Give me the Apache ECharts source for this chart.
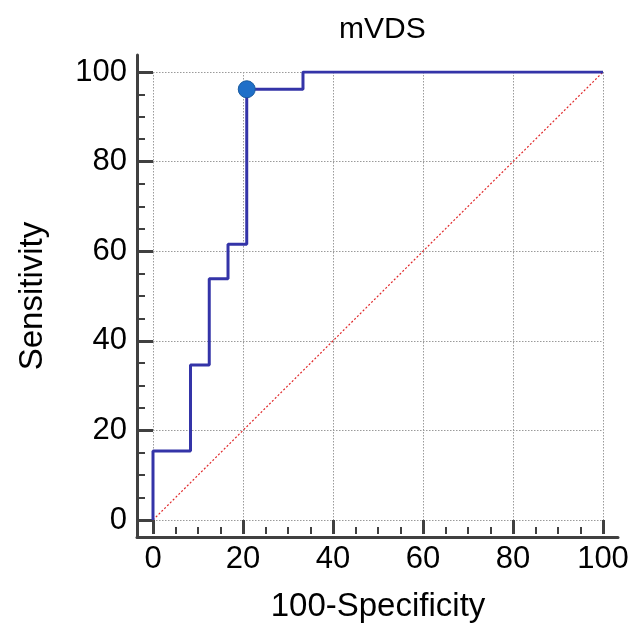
<!DOCTYPE html>
<html>
<head>
<meta charset="utf-8">
<script src="https://cdn.jsdelivr.net/npm/echarts@6/dist/echarts.min.js"></script>
<style>
  html, body { margin: 0; padding: 0; background: #fff; }
  #rocChart { width: 632px; height: 628px; }
</style>
</head>
<body>
<div id="rocChart"></div>
<script>
// ROC steps (100-Specificity, Sensitivity)
const rocX = [0, 0, 8.33, 8.33, 12.5, 12.5, 16.67, 16.67, 20.83, 20.83, 33.33, 33.33, 100];
const rocY = [0, 15.38, 15.38, 34.62, 34.62, 53.85, 53.85, 61.54, 61.54, 96.15, 96.15, 100, 100];
// optimal cut-off point
const cutX = [20.83];
const cutY = [96.15];
// chance line
const diagX = [0, 100];
const diagY = [0, 100];
// axis ticks
const axisTicks = [0, 20, 40, 60, 80, 100];

const font = "'Liberation Sans', Arial, sans-serif";
const axisColor = '#404040';

function pairs(xs, ys) {
    return xs.map((x, i) => [x, ys[i]]);
}

let myChart = echarts.init(document.getElementById('rocChart'));

const tickAxis = (isY) => ({
    type: 'value',
    gridIndex: 0,
    min: axisTicks[0],
    max: axisTicks[axisTicks.length - 1],
    interval: axisTicks[1] - axisTicks[0],
    offset: isY ? 16 : 14,
    axisLine: { show: false, onZero: false },
    axisTick: {
        show: true,
        inside: true,
        length: isY ? 16 : 14,
        lineStyle: { color: axisColor, width: 3 }
    },
    minorTick: {
        show: true,
        splitNumber: 4,
        length: isY ? 8 : 7,
        lineStyle: { color: axisColor, width: 2 }
    },
    splitLine: {
        show: true,
        lineStyle: { color: '#9a9a9a', type: [1.5, 1.5], width: 1 }
    },
    axisLabel: {
        color: '#000',
        fontSize: 31,
        fontFamily: font,
        margin: isY ? 10 : 10
    },
    name: isY ? 'Sensitivity' : '100-Specificity',
    nameLocation: 'middle',
    nameGap: isY ? 88 : 56,
    nameTextStyle: { color: '#000', fontSize: 33, fontFamily: font }
});

const frameAxis = () => ({
    type: 'value',
    gridIndex: 1,
    min: 0,
    max: 1,
    axisLine: { show: true, onZero: false, lineStyle: { color: axisColor, width: 3 } },
    axisTick: { show: false },
    axisLabel: { show: false },
    splitLine: { show: false }
});

const option = {
    animation: false,
    title: {
        text: 'mVDS',
        left: 334,
        top: 10,
        textStyle: { color: '#000', fontSize: 30, fontWeight: 'normal', fontFamily: font }
    },
    grid: [
        { left: 153, right: 29, top: 72, bottom: 107 },
        { left: 137, right: 14, top: 55, bottom: 91 }
    ],
    xAxis: [tickAxis(false), frameAxis()],
    yAxis: [tickAxis(true), frameAxis()],
    series: [
        {
            name: 'chance',
            type: 'line',
            xAxisIndex: 0,
            yAxisIndex: 0,
            data: pairs(diagX, diagY),
            symbol: 'none',
            lineStyle: { color: '#e0282a', width: 1.2, type: [2, 2] },
            z: 3
        },
        {
            name: 'ROC',
            type: 'line',
            xAxisIndex: 0,
            yAxisIndex: 0,
            data: pairs(rocX, rocY),
            symbol: 'none',
            lineStyle: { color: '#3434a8', width: 3 },
            z: 4
        },
        {
            name: 'cutoff',
            type: 'scatter',
            xAxisIndex: 0,
            yAxisIndex: 0,
            data: pairs(cutX, cutY),
            symbol: 'circle',
            symbolSize: 17,
            itemStyle: { color: '#1f6fc8', borderColor: '#1a5b9e', borderWidth: 1, opacity: 1 },
            z: 5
        }
    ]
};
myChart.setOption(option);
</script>
</body>
</html>
